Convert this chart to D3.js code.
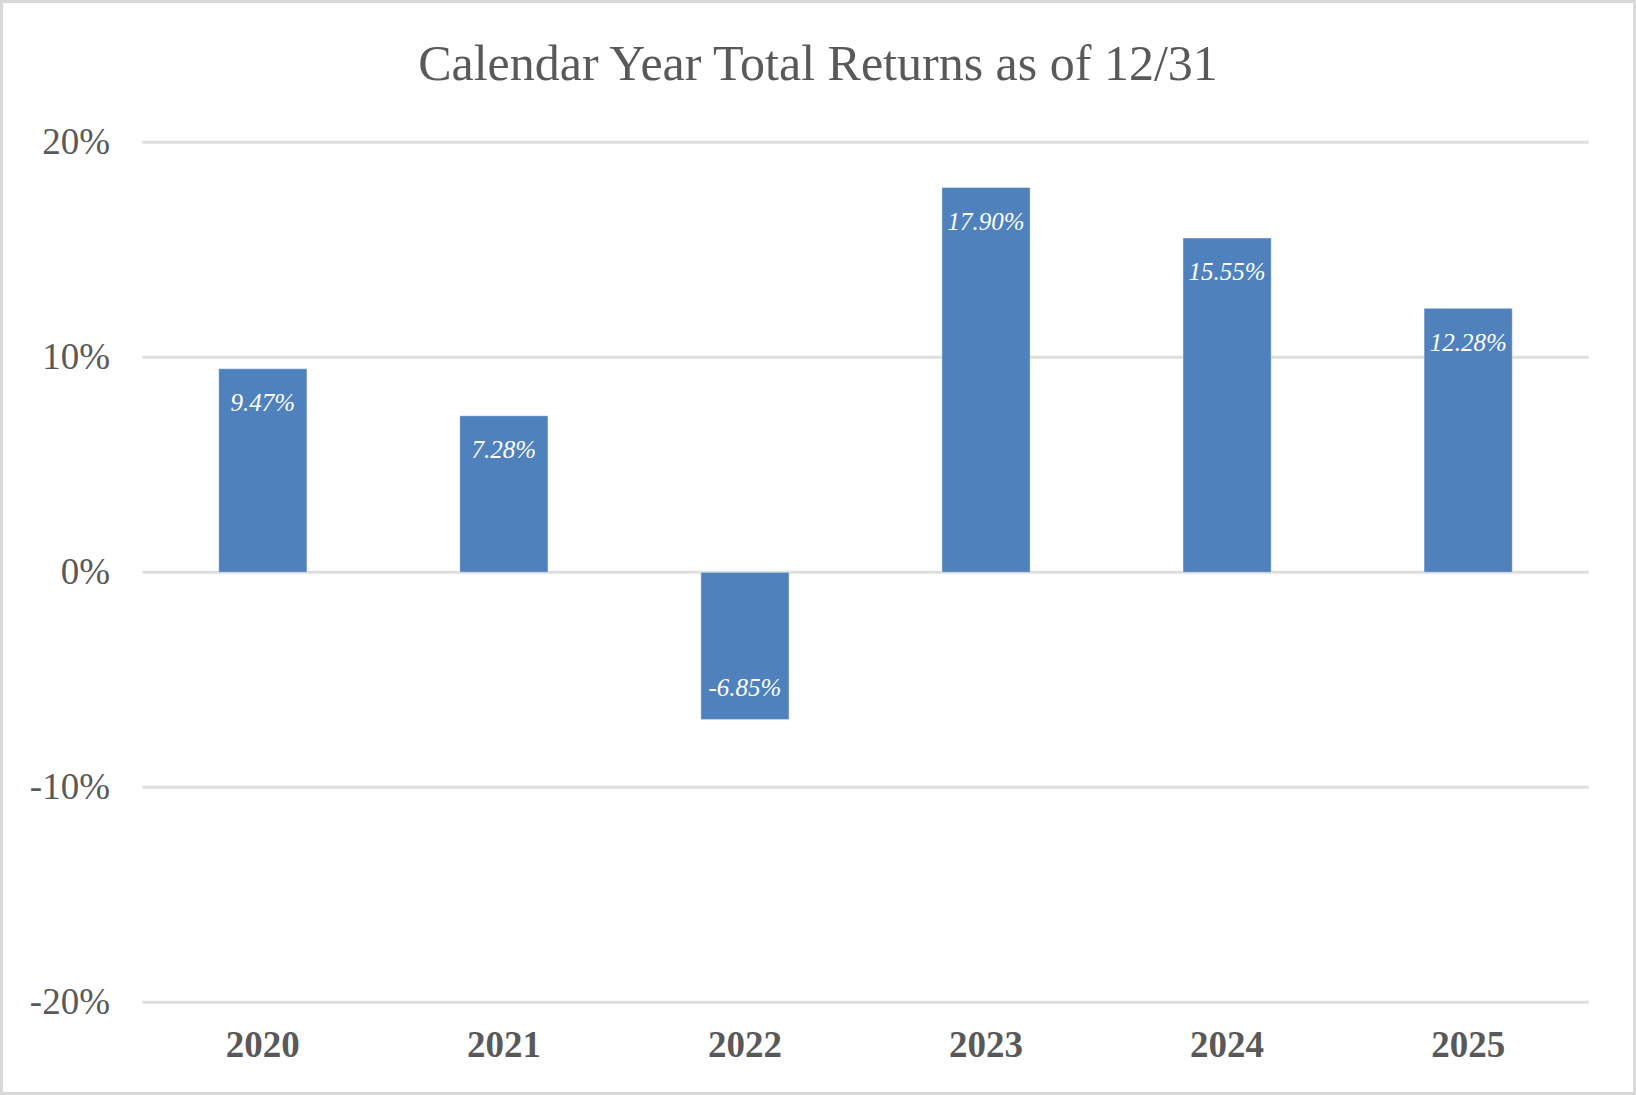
<!DOCTYPE html>
<html>
<head>
<meta charset="utf-8">
<script src="https://cdn.jsdelivr.net/npm/d3@7"></script>
<style>
  html, body { margin: 0; padding: 0; background: #fff; }
  svg { display: block; }
  text { font-family: "Liberation Serif", "Times New Roman", serif; }
</style>
</head>
<body>
<svg id="chart" width="1636" height="1095"></svg>
<script>
const years = ["2020", "2021", "2022", "2023", "2024", "2025"];
const returns = [9.47, 7.28, -6.85, 17.90, 15.55, 12.28];
const yTicks = [-20, -10, 0, 10, 20];
const title = "Calendar Year Total Returns as of 12/31";

const W = 1636, H = 1095;
const plot = { left: 142.3, right: 1588.7, top: 142.3, bottom: 1002.3 };
const textColor = "#595959";
const gridColor = "#dedede";
const barColor = "#4f81bd";

const svg = d3.select("#chart");

// outer border
svg.append("rect")
  .attr("x", 1.5).attr("y", 1.5)
  .attr("width", W - 3).attr("height", H - 3)
  .attr("fill", "#fff")
  .attr("stroke", "#d9d9d9")
  .attr("stroke-width", 3);

const x = d3.scaleBand().domain(years).range([plot.left, plot.right]).padding(0);
const y = d3.scaleLinear().domain([-20, 20]).range([plot.bottom, plot.top]);
const barW = x.bandwidth() * 0.366;

// title
svg.append("text")
  .attr("x", W / 2).attr("y", 80)
  .attr("text-anchor", "middle")
  .attr("font-size", 50)
  .attr("fill", textColor)
  .text(title);

// gridlines
svg.append("g").selectAll("line").data(yTicks).join("line")
  .attr("x1", plot.left).attr("x2", plot.right)
  .attr("y1", d => y(d)).attr("y2", d => y(d))
  .attr("stroke", gridColor)
  .attr("stroke-width", 3);

// y tick labels
const yAxis = d3.axisLeft(y).tickValues(yTicks).tickSize(0).tickPadding(0)
  .tickFormat(d => d + "%");
const yg = svg.append("g").attr("transform", `translate(110,0)`).call(yAxis);
yg.select(".domain").remove();
yg.selectAll("text")
  .attr("font-family", "Liberation Serif, Times New Roman, serif")
  .attr("font-size", 37)
  .attr("fill", textColor)
  .attr("dy", "0.31em");

// x labels
const xAxis = d3.axisBottom(x).tickSize(0).tickPadding(0);
const xg = svg.append("g").attr("transform", `translate(0,1057)`).call(xAxis);
xg.select(".domain").remove();
xg.selectAll("text")
  .attr("font-family", "Liberation Serif, Times New Roman, serif")
  .attr("font-size", 37)
  .attr("font-weight", "bold")
  .attr("fill", textColor)
  .attr("dy", 0)
  .attr("y", 0);

const data = years.map((yr, i) => ({ yr, v: returns[i] }));

// bars
svg.append("g").selectAll("rect").data(data).join("rect")
  .attr("x", d => x(d.yr) + (x.bandwidth() - barW) / 2)
  .attr("width", barW)
  .attr("y", d => Math.min(y(d.v), y(0)))
  .attr("height", d => Math.abs(y(d.v) - y(0)))
  .attr("fill", barColor)
  .attr("stroke", "#ffffff")
  .attr("stroke-opacity", 0.45)
  .attr("stroke-width", 1);

// data labels
svg.append("g").selectAll("text").data(data).join("text")
  .attr("x", d => x(d.yr) + x.bandwidth() / 2)
  .attr("y", d => d.v >= 0 ? y(d.v) + 42.5 : y(d.v) - 23.5)
  .attr("text-anchor", "middle")
  .attr("font-size", 25)
  .attr("font-style", "italic")
  .attr("fill", "#ffffff")
  .text(d => d.v.toFixed(2) + "%");
</script>
</body>
</html>
